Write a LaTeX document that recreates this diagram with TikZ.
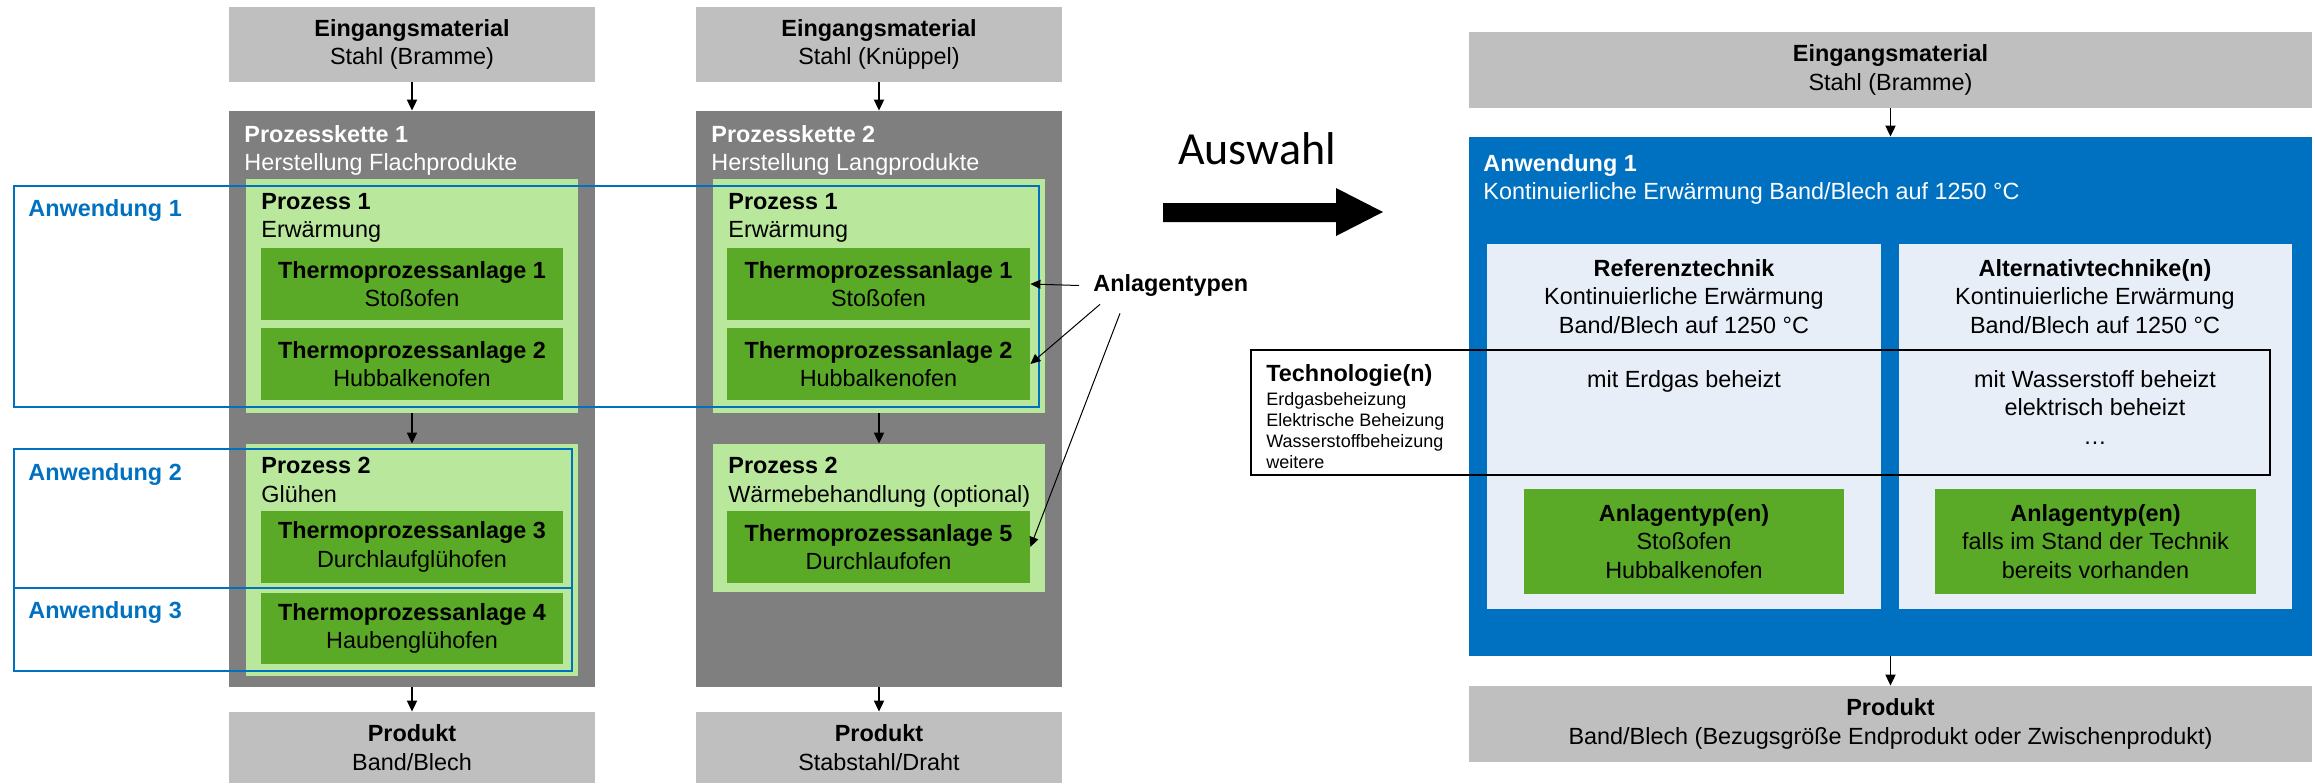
\documentclass[tikz,border=0pt]{standalone}
\usepackage{fontspec}
\setmainfont{Liberation Sans}
\newfontfamily\auswahlfont{Carlito}
\usetikzlibrary{arrows.meta,fit}
\definecolor{hellgrau}{RGB}{191,191,191}
\definecolor{kettengrau}{RGB}{127,127,127}
\definecolor{hellgruen}{RGB}{185,232,157}
\definecolor{anlagengruen}{RGB}{90,170,40}
\definecolor{anwblau}{RGB}{0,112,192}
\definecolor{hellblau}{RGB}{231,238,248}
\newcommand{\normalschrift}{\fontsize{11.7}{14.2}\selectfont}
\newcommand{\kleinschrift}{\fontsize{9}{10.5}\selectfont}

\begin{document}
\begin{tikzpicture}[x=0.5pt,y=-0.5pt,
  feld/.style={fill=#1, inner sep=0pt},
  inhalt/.style={inner sep=0pt, align=center, font=\normalschrift},
  rahmen/.style={draw=#1, line width=1.2pt, inner sep=0pt},
  kopf/.style={anchor=north west, inner sep=0pt, align=left, font=\normalschrift},
  mitte/.style={anchor=north, inner sep=0pt, align=center, font=\normalschrift},
  fluss/.style={-{Triangle[length=5.5pt,width=5pt]}, line width=0.9pt},
  hinweis/.style={-{Triangle[length=5pt,width=4.5pt]}, line width=0.5pt}]

\useasboundingbox (0,0) rectangle (2315,783);

\node[feld=hellgrau, fit={(229,7) (595,82)}] (ein1) {};
\node[inhalt] (ein1text) at (ein1.center) {\textbf{Eingangsmaterial}\\Stahl (Bramme)};
\node[feld=kettengrau, fit={(229,111) (595,687)}] (pk1) {};
\node[kopf, text=white] (pk1kopf) at (244,125) {\textbf{Prozesskette 1}\\Herstellung Flachprodukte};
\node[feld=hellgruen, fit={(246,179) (578,413)}] (p11) {};
\node[kopf] (p11kopf) at (261,193) {\textbf{Prozess 1}\\Erwärmung};
\node[feld=anlagengruen, fit={(261,248) (563,320)}] (anl11) {};
\node[inhalt] (anl11text) at (anl11.center) {\textbf{Thermoprozessanlage 1}\\Stoßofen};
\node[feld=anlagengruen, fit={(261,328) (563,400)}] (anl12) {};
\node[inhalt] (anl12text) at (anl12.center) {\textbf{Thermoprozessanlage 2}\\Hubbalkenofen};
\node[feld=hellgruen, fit={(246,444) (578,676)}] (p12) {};
\node[kopf] (p12kopf) at (261,457) {\textbf{Prozess 2}\\Glühen};
\node[feld=anlagengruen, fit={(261,511) (563,583)}] (anl13) {};
\node[inhalt] (anl13text) at (anl13.center) {\textbf{Thermoprozessanlage 3}\\Durchlaufglühofen};
\node[feld=anlagengruen, fit={(261,593) (563,664)}] (anl14) {};
\node[inhalt] (anl14text) at (anl14.center) {\textbf{Thermoprozessanlage 4}\\Haubenglühofen};
\node[feld=hellgrau, fit={(229,712) (595,783)}] (pr1) {};
\node[inhalt] (pr1text) at (pr1.center) {\textbf{Produkt}\\Band/Blech};
\draw[fluss] (ein1) -- (pk1);
\draw[fluss] (p11) -- (p12);
\draw[fluss] (pk1) -- (pr1);

\node[feld=hellgrau, fit={(696,7) (1062,82)}] (ein2) {};
\node[inhalt] (ein2text) at (ein2.center) {\textbf{Eingangsmaterial}\\Stahl (Knüppel)};
\node[feld=kettengrau, fit={(696,111) (1062,687)}] (pk2) {};
\node[kopf, text=white] (pk2kopf) at (711,125) {\textbf{Prozesskette 2}\\Herstellung Langprodukte};
\node[feld=hellgruen, fit={(713,179) (1045,413)}] (p21) {};
\node[kopf] (p21kopf) at (728,193) {\textbf{Prozess 1}\\Erwärmung};
\node[feld=anlagengruen, fit={(727,248) (1030,320)}] (anl21) {};
\node[inhalt] (anl21text) at (anl21.center) {\textbf{Thermoprozessanlage 1}\\Stoßofen};
\node[feld=anlagengruen, fit={(727,328) (1030,400)}] (anl22) {};
\node[inhalt] (anl22text) at (anl22.center) {\textbf{Thermoprozessanlage 2}\\Hubbalkenofen};
\node[feld=hellgruen, fit={(713,444) (1045,592)}] (p22) {};
\node[kopf] (p22kopf) at (728,457) {\textbf{Prozess 2}\\Wärmebehandlung (optional)};
\node[feld=anlagengruen, fit={(727,511) (1030,583)}] (anl25) {};
\node[inhalt] (anl25text) at (anl25.center) {\textbf{Thermoprozessanlage 5}\\Durchlaufofen};
\node[feld=hellgrau, fit={(696,712) (1062,783)}] (pr2) {};
\node[inhalt] (pr2text) at (pr2.center) {\textbf{Produkt}\\Stabstahl/Draht};
\draw[fluss] (ein2) -- (pk2);
\draw[fluss] (p21) -- (p22);
\draw[fluss] (pk2) -- (pr2);

\node[rahmen=anwblau, fit={(14,186) (1039,407)}] (anw1) {};
\node[rahmen=anwblau, fit={(14,449) (572,588)}] (anw2) {};
\node[rahmen=anwblau, fit={(14,588) (572,671)}] (anw3) {};
\node[kopf, text=anwblau, font=\normalschrift\bfseries] (anw1text) at (28,199) {Anwendung 1};
\node[kopf, text=anwblau, font=\normalschrift\bfseries] (anw2text) at (28,463) {Anwendung 2};
\node[kopf, text=anwblau, font=\normalschrift\bfseries] (anw3text) at (28,601) {Anwendung 3};

\node[anchor=west, inner sep=0pt, font=\normalschrift\bfseries] (typen) at (1093,285.5) {Anlagentypen};
\draw[hinweis] ([xshift=-7pt]typen.west) -- (anl21.east);
\draw[hinweis] ([xshift=3.5pt,yshift=-3.75pt]typen.south west) -- (anl22.east);
\draw[hinweis] ([xshift=13.5pt,yshift=-8.25pt]typen.south west) -- (anl25.east);

\node[inner sep=0pt, anchor=base, font=\auswahlfont\fontsize{23}{27}\selectfont] (auswahl) at (1257,164) {Auswahl};
\fill (1163,203) -- (1336,203) -- (1336,188) -- (1383,212) -- (1336,236) -- (1336,222) -- (1163,222) -- cycle;

\node[feld=hellgrau, fit={(1469,32) (2312,108)}] (ein3) {};
\node[inhalt] (ein3text) at (ein3.center) {\textbf{Eingangsmaterial}\\Stahl (Bramme)};
\node[feld=anwblau, fit={(1469,137) (2312,656)}] (anw) {};
\node[kopf, text=white] (anwkopf) at (1483,154) {\textbf{Anwendung 1}\\Kontinuierliche Erwärmung Band/Blech auf 1250 °C};
\node[feld=hellblau, fit={(1487,244) (1881,609)}] (ref) {};
\node[feld=hellblau, fit={(1899,244) (2292,609)}] (alt) {};
\node[mitte] (reftext) at (1684,259) {\textbf{Referenztechnik}\\Kontinuierliche Erwärmung\\Band/Blech auf 1250 °C};
\node[mitte] (alttext) at (2095,259) {\textbf{Alternativtechnike(n)}\\Kontinuierliche Erwärmung\\Band/Blech auf 1250 °C};
\node[mitte] (refheiz) at (1684,370) {mit Erdgas beheizt};
\node[mitte] (altheiz) at (2095,370) {mit Wasserstoff beheizt\\elektrisch beheizt\\\dots};
\node[feld=anlagengruen, fit={(1524,489) (1844,594)}] (reftyp) {};
\node[inhalt] (reftyptext) at (reftyp.center) {\textbf{Anlagentyp(en)}\\Stoßofen\\Hubbalkenofen};
\node[feld=anlagengruen, fit={(1935,489) (2256,594)}] (alttyp) {};
\node[inhalt] (alttyptext) at (alttyp.center) {\textbf{Anlagentyp(en)}\\falls im Stand der Technik\\bereits vorhanden};
\node[rahmen=black, line width=1pt, fit={(1251,350) (2270,475)}] (techno) {};
\node[kopf, font=\normalschrift\bfseries] (technotitel) at (1266,364) {Technologie(n)};
\node[kopf, font=\kleinschrift] (technoliste) at (1266,392) {Erdgasbeheizung\\Elektrische Beheizung\\Wasserstoffbeheizung\\weitere};
\node[feld=hellgrau, fit={(1469,686) (2312,762)}] (pr3) {};
\node[inhalt] (pr3text) at (pr3.center) {\textbf{Produkt}\\Band/Blech (Bezugsgröße Endprodukt oder Zwischenprodukt)};
\draw[fluss] (ein3) -- (anw);
\draw[fluss] (anw) -- (pr3);

\end{tikzpicture}
\end{document}
